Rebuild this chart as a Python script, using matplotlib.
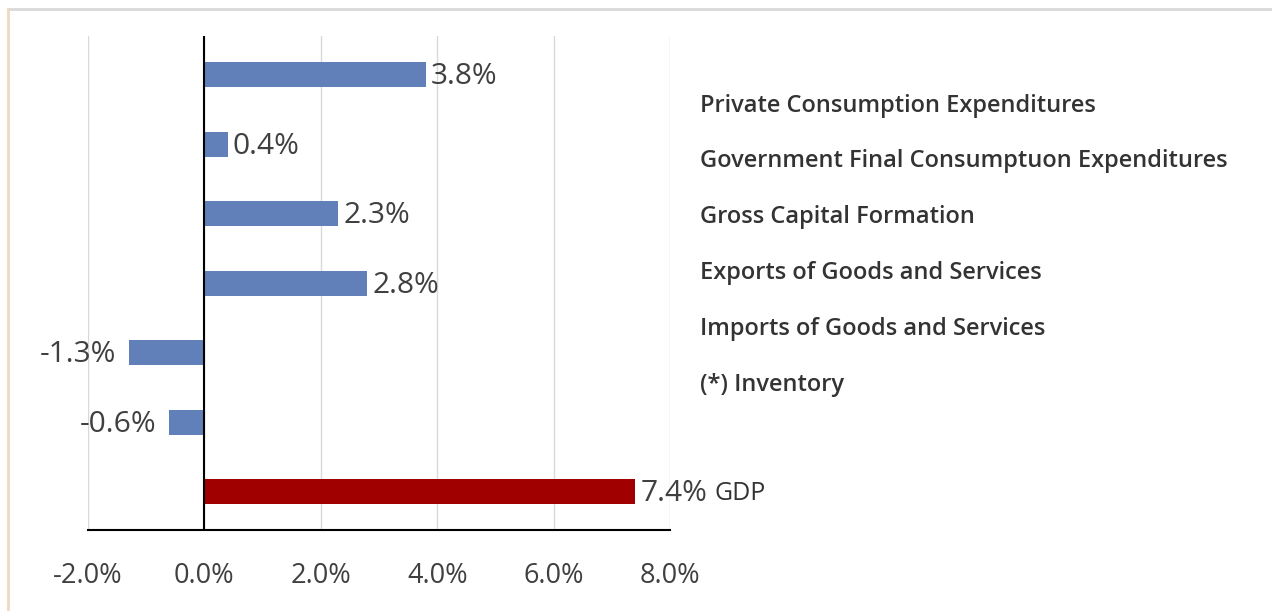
import matplotlib.pyplot as plt
from matplotlib.lines import Line2D

# contributions to GDP growth, percentage points
components = ["Private Consumption Expenditures",
              "Government Final Consumptuon Expenditures",
              "Gross Capital Formation",
              "Exports of Goods and Services",
              "Imports of Goods and Services",
              "(*) Inventory",
              "GDP"]
values = [3.8, 0.4, 2.3, 2.8, -1.3, -0.6, 7.4]
xticks = [-2, 0, 2, 4, 6, 8]

blue = "#6180BA"
red = "#A00000"
txt = "#404040"

W, H = 1272, 611
fig = plt.figure(figsize=(W / 100, H / 100), dpi=100)
ax = fig.add_axes([88 / W, 1 - 530 / H, (670 - 88) / W, (530 - 36) / H])

colors = [blue] * (len(values) - 1) + [red]
ypos = list(range(len(values)))
ax.barh(ypos, values, height=0.36, color=colors, zorder=3)

ax.set_xlim(-2, 8)
ax.set_ylim(6.55, -0.56)
ax.set_xticks(xticks)
ax.set_xticklabels([f"{t:.1f}%" for t in xticks], fontsize=19.5, color=txt,
                   family="Open Sans")
ax.tick_params(axis="x", length=0, pad=23)
ax.set_yticks([])
ax.grid(axis="x", color="#d9d9d9", linewidth=1, zorder=0)
ax.axvline(0, color="black", linewidth=1.5, zorder=4)
for s in ["top", "right", "left"]:
    ax.spines[s].set_visible(False)
ax.spines["bottom"].set_color("black")
ax.spines["bottom"].set_linewidth(1.5)

# value labels at bar ends
for y, v in zip(ypos, values):
    if v >= 0:
        ax.text(v + 0.09, y + 0.03, f"{v:.1f}%", va="center", ha="left",
                fontsize=21.5, color=txt, family="Open Sans")
    else:
        ax.text(v - 0.22, y + 0.03, f"{v:.1f}%", va="center", ha="right",
                fontsize=21.5, color=txt, family="Open Sans")

# category names listed to the right
label_y = [106, 161, 217, 273, 329, 385]
for name, py in zip(components[:-1], label_y):
    fig.text(700 / W, 1 - py / H, name, va="center", ha="left", fontsize=17,
             fontweight="semibold", color="#333333", family="Open Sans")
fig.text(715 / W, 1 - 494 / H, components[-1], va="center", ha="left",
         fontsize=18, color="#333333", family="Open Sans")

# outer frame
fig.add_artist(Line2D([8 / W, 1], [1 - 9 / H] * 2, color="#d9d9d9", linewidth=2,
                      transform=fig.transFigure))
fig.add_artist(Line2D([8 / W] * 2, [0, 1 - 9 / H], color="#f0d8c4", linewidth=2,
                      transform=fig.transFigure))

fig.savefig("out.png", dpi=100, facecolor="white")
